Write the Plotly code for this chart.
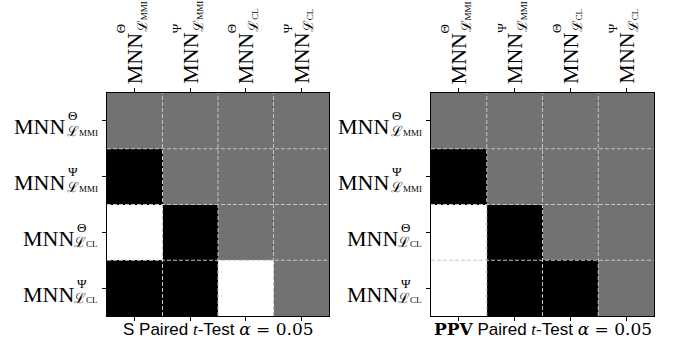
import numpy as np
import plotly.graph_objects as go

# Model variants compared in both panels (same order on rows and columns)
variant_sup = ["Θ", "Ψ", "Θ", "Ψ"]
variant_sub = ["MMI", "MMI", "CL", "CL"]

# Paired t-test outcomes (lower triangle only; NaN = not compared)
# 1 = significant difference, 0 = no significant difference
nan = np.nan
s_result = [
    [nan, nan, nan, nan],
    [1, nan, nan, nan],
    [0, 1, nan, nan],
    [1, 1, 0, nan],
]
ppv_result = [
    [nan, nan, nan, nan],
    [1, nan, nan, nan],
    [0, 1, nan, nan],
    [0, 1, 1, nan],
]
panel_metric = ["S", "PPV"]
alpha_text = "0.05"

W, H = 680, 341
SERIF = "Liberation Serif"
SCRIPT = "DejaVu Serif"
SANS = "Liberation Sans"
GRAY = "#727272"

x_domains = [[107 / W, 329 / W], [431 / W, 654 / W]]
y_domain = [1 - 316 / H, 1 - 93 / H]

# pixel widths of the stacked subscript blocks, used to right-align row labels
SUB_W = {"MMI": 33, "CL": 24}
MNN_LEN = 51


def sub_text(s):
    return (f"<span style='font-family:{SCRIPT}'>ℒ</span>"
            f"<span style='font-size:9px'>{s}</span>")


fig = go.Figure()
n = len(variant_sup)
idx = list(range(n))

annotations = []
shapes = []
for p, (metric, z) in enumerate(zip(panel_metric, [s_result, ppv_result])):
    xa = "x" if p == 0 else f"x{p + 1}"
    ya = "y" if p == 0 else f"y{p + 1}"
    fig.add_trace(go.Heatmap(
        z=z, x=idx, y=idx, xaxis=xa, yaxis=ya,
        colorscale=[[0, "white"], [1, "black"]], zmin=0, zmax=1,
        showscale=False, hoverongaps=False,
    ))
    axis_common = dict(
        showgrid=False, zeroline=False, showticklabels=False,
        tickvals=idx, ticks="outside", ticklen=4, tickwidth=1,
        tickcolor="black", showline=True, linecolor="black", linewidth=1,
    )
    fig.update_layout(**{
        ("xaxis" if p == 0 else f"xaxis{p + 1}"): dict(
            axis_common, domain=x_domains[p], range=[-0.5, n - 0.5],
            side="top", mirror="ticks", anchor=ya),
        ("yaxis" if p == 0 else f"yaxis{p + 1}"): dict(
            axis_common, domain=y_domain, range=[n - 0.5, -0.5],
            mirror=True, anchor=xa),
    })

    # dashed cell boundaries drawn over the cells
    for k in range(n - 1):
        b = k + 0.5
        line = dict(color="#c4c4c4", width=1, dash="4px,2px")
        shapes.append(dict(type="line", xref=xa, yref=f"{ya} domain",
                           x0=b, x1=b, y0=0, y1=1, line=line, layer="above"))
        shapes.append(dict(type="line", xref=f"{xa} domain", yref=ya,
                           x0=0, x1=1, y0=b, y1=b, line=line, layer="above"))

    # row labels: MNN with stacked super/subscript, right-aligned to the axis
    for i in idx:
        sub = variant_sub[i]
        sw = SUB_W[sub]
        base = dict(xref=f"{xa} domain", yref=ya, x=0, y=i, showarrow=False,
                    yanchor="middle")
        annotations.append(dict(base, text="MNN", xanchor="right",
                                xshift=-7 - sw, yshift=-6,
                                font=dict(family=SERIF, size=22, color="black")))
        annotations.append(dict(base, text=variant_sup[i], xanchor="left",
                                xshift=-7 - sw - 1, yshift=5,
                                font=dict(family=SERIF, size=13, color="black")))
        annotations.append(dict(base, text=sub_text(sub),
                                xanchor="right", xshift=-7, yshift=-10,
                                font=dict(family=SERIF, size=14, color="black")))

    # column labels: rotated, starting just above the top ticks
    for j in idx:
        sub = variant_sub[j]
        base = dict(xref=xa, yref=f"{ya} domain", x=j, y=1, showarrow=False,
                    textangle=-90, yanchor="bottom", xanchor="center")
        annotations.append(dict(base, text="MNN", yshift=7, xshift=0,
                                font=dict(family=SERIF, size=22, color="black")))
        annotations.append(dict(base, text=variant_sup[j], yshift=7 + MNN_LEN,
                                xshift=-14,
                                font=dict(family=SERIF, size=13, color="black")))
        annotations.append(dict(base, text=sub_text(sub),
                                yshift=7 + MNN_LEN + 1, xshift=7,
                                font=dict(family=SERIF, size=14, color="black")))

    # panel caption under each matrix
    metric_html = (f"<span style='font-family:{SCRIPT}'><b>{metric}</b></span>"
                   if metric == "PPV" else metric)
    caption = (f"{metric_html} Paired "
               f"<span style='font-family:{SERIF}'><i>t</i></span>-Test "
               f"<span style='font-family:{SCRIPT}'><i>α</i> = {alpha_text}</span>")
    annotations.append(dict(xref=f"{xa} domain", yref=f"{ya} domain", x=0.5, y=0,
                            yanchor="top", xanchor="center", yshift=-1,
                            showarrow=False, text=caption,
                            font=dict(family=SANS, size=17, color="black")))

fig.update_layout(
    width=W, height=H, margin=dict(l=0, r=0, t=0, b=0),
    paper_bgcolor="white", plot_bgcolor=GRAY,
    annotations=annotations, shapes=shapes, showlegend=False,
)

fig.write_html("out.html")
